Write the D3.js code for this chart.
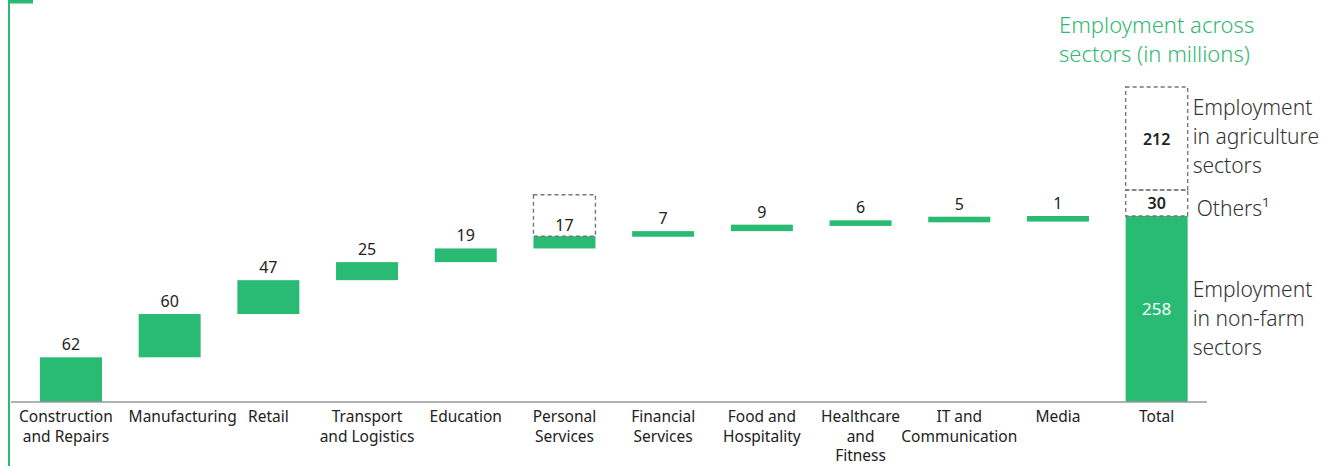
<!DOCTYPE html>
<html>
<head>
<meta charset="utf-8">
<script src="https://cdn.jsdelivr.net/npm/d3@7"></script>
<style>
  body { margin: 0; background: #fff; }
  svg { display: block; font-family: "Noto Sans", "Open Sans", sans-serif; }
</style>
</head>
<body>
<div id="chart"></div>
<script>
// chart data
var sectors = [
    ["Construction", "and Repairs"],
    ["Manufacturing"],
    ["Retail"],
    ["Transport", "and Logistics"],
    ["Education"],
    ["Personal", "Services"],
    ["Financial", "Services"],
    ["Food and", "Hospitality"],
    ["Healthcare", "and", "Fitness"],
    ["IT and", "Communication"],
    ["Media"]
];
var sector_values = [62, 60, 47, 25, 19, 17, 7, 9, 6, 5, 1];
var total_name = ["Total"];
var total_parts = ["non-farm", "others", "agriculture"];
var total_values = [258, 30, 212];
var total_notes = [
    ["Employment", "in non-farm", "sectors"],
    ["Others\u00b9"],
    ["Employment", "in agriculture", "sectors"]
];
var title_lines = ["Employment across", "sectors (in millions)"];
var boxed_sector = "Personal Services";

var width = 1323;
var height = 466;
var green = '#29ba74';

var svg = d3.select('#chart')
  .append('svg')
    .attr('width', width)
    .attr('height', height);

var names = sectors.map(function(s) { return s.join(' '); }).concat(total_name.join(' '));
var labels = sectors.concat([total_name]);

var x = d3.scaleBand()
    .domain(names)
    .range([21.6, 1206])
    .paddingInner(0.372)
    .paddingOuter(0.186);

// stacked total uses a broken scale above the non-farm total
var y = d3.scaleLinear()
    .domain([0, 258, 288, 500])
    .range([402, 216, 190, 87]);

// left green frame
svg.append('line')
    .attr('x1', 9).attr('x2', 9).attr('y1', 0).attr('y2', height)
    .attr('stroke', green).attr('stroke-width', 2);
svg.append('rect')
    .attr('x', 8).attr('y', 0).attr('width', 25).attr('height', 3.5)
    .attr('fill', green);

// waterfall steps
var steps = [];
var run = 0;
for(var i = 0; i < sector_values.length; i++) {
    steps.push({name: names[i], start: run, end: run + sector_values[i], value: sector_values[i]});
    run += sector_values[i];
}

var g = svg.append('g');
g.selectAll('rect')
    .data(steps)
  .enter()
    .append('rect')
    .attr('fill', green)
    .attr('x', function(d) { return x(d.name); })
    .attr('y', function(d) { return y(d.end); })
    .attr('width', x.bandwidth())
    .attr('height', function(d) { return Math.max(5.6, y(d.start) - y(d.end)); });

g.selectAll('text')
    .data(steps)
  .enter()
    .append('text')
    .text(function(d) { return d.value; })
    .attr('x', function(d) { return x(d.name) + x.bandwidth() / 2; })
    .attr('y', function(d) { return y(d.end) - (d.name == boxed_sector ? 5 : 7); })
    .attr('text-anchor', 'middle')
    .attr('font-size', 16)
    .attr('fill', '#222');

// dashed box above personal services
var bx = x(boxed_sector);
var bs = steps[names.indexOf(boxed_sector)];
svg.append('rect')
    .attr('x', bx).attr('y', y(bs.end) - 41.5)
    .attr('width', x.bandwidth()).attr('height', 41.5)
    .attr('fill', 'none').attr('stroke', '#777')
    .attr('stroke-width', 1.4).attr('stroke-dasharray', '4,3');

// total column
var tx = x(names[names.length - 1]);
var tw = x.bandwidth();
var acc = 0;
var parts = total_values.map(function(v, i) {
    var p = {part: total_parts[i], start: acc, end: acc + v, value: v, note: total_notes[i]};
    acc += v;
    return p;
});

var note_shift = [9, 5, -2.5];

parts.forEach(function(p, i) {
    var top = y(p.end), bot = y(p.start);
    if(i == 0) {
        svg.append('rect')
            .attr('x', tx).attr('y', top).attr('width', tw).attr('height', bot - top)
            .attr('fill', green);
        svg.append('text')
            .text(p.value)
            .attr('x', tx + tw / 2).attr('y', (top + bot) / 2 + 6)
            .attr('text-anchor', 'middle').attr('font-size', 17)
            .attr('fill', '#fff');
    }
    else {
        svg.append('rect')
            .attr('x', tx).attr('y', top).attr('width', tw).attr('height', bot - top)
            .attr('fill', 'none').attr('stroke', '#777')
            .attr('stroke-width', 1.4).attr('stroke-dasharray', '4,3');
        svg.append('text')
            .text(p.value)
            .attr('x', tx + tw / 2).attr('y', (top + bot) / 2 + 6)
            .attr('text-anchor', 'middle').attr('font-size', 16)
            .attr('font-weight', 600).attr('fill', '#222');
    }
    // notes to the right
    var mid = (top + bot) / 2 + note_shift[i];
    var lh = 29;
    var nx = tx + tw + (i == 1 ? 9 : 5);
    var t = svg.append('text')
        .attr('font-size', 21)
        .attr('font-weight', 300)
        .attr('fill', '#333');
    p.note.forEach(function(line, k) {
        t.append('tspan')
            .attr('x', nx)
            .attr('y', mid + 7.5 + (k - (p.note.length - 1) / 2) * lh)
            .text(line);
    });
});

// axis line
svg.append('line')
    .attr('x1', 11).attr('x2', 1207).attr('y1', 402).attr('y2', 402)
    .attr('stroke', '#999').attr('stroke-width', 1.5);

// category labels
var xl = svg.append('g');
names.forEach(function(n, i) {
    var t = xl.append('text')
        .attr('text-anchor', 'middle')
        .attr('font-size', 15.5)
        .attr('fill', '#222');
    labels[i].forEach(function(line, k) {
        t.append('tspan')
            .attr('x', x(n) + x.bandwidth() / 2 + (n == 'Manufacturing' ? 13 : 0) + (n == 'Construction and Repairs' ? -5 : 0))
            .attr('y', 422 + k * 19.5)
            .text(line);
    });
});

// title
var title = svg.append('text')
    .attr('font-size', 22)
    .attr('font-weight', 300)
    .attr('fill', '#34b872');
title_lines.forEach(function(line, k) {
    title.append('tspan')
        .attr('x', 1059)
        .attr('y', 33 + k * 29)
        .text(line);
});
</script>
</body>
</html>
